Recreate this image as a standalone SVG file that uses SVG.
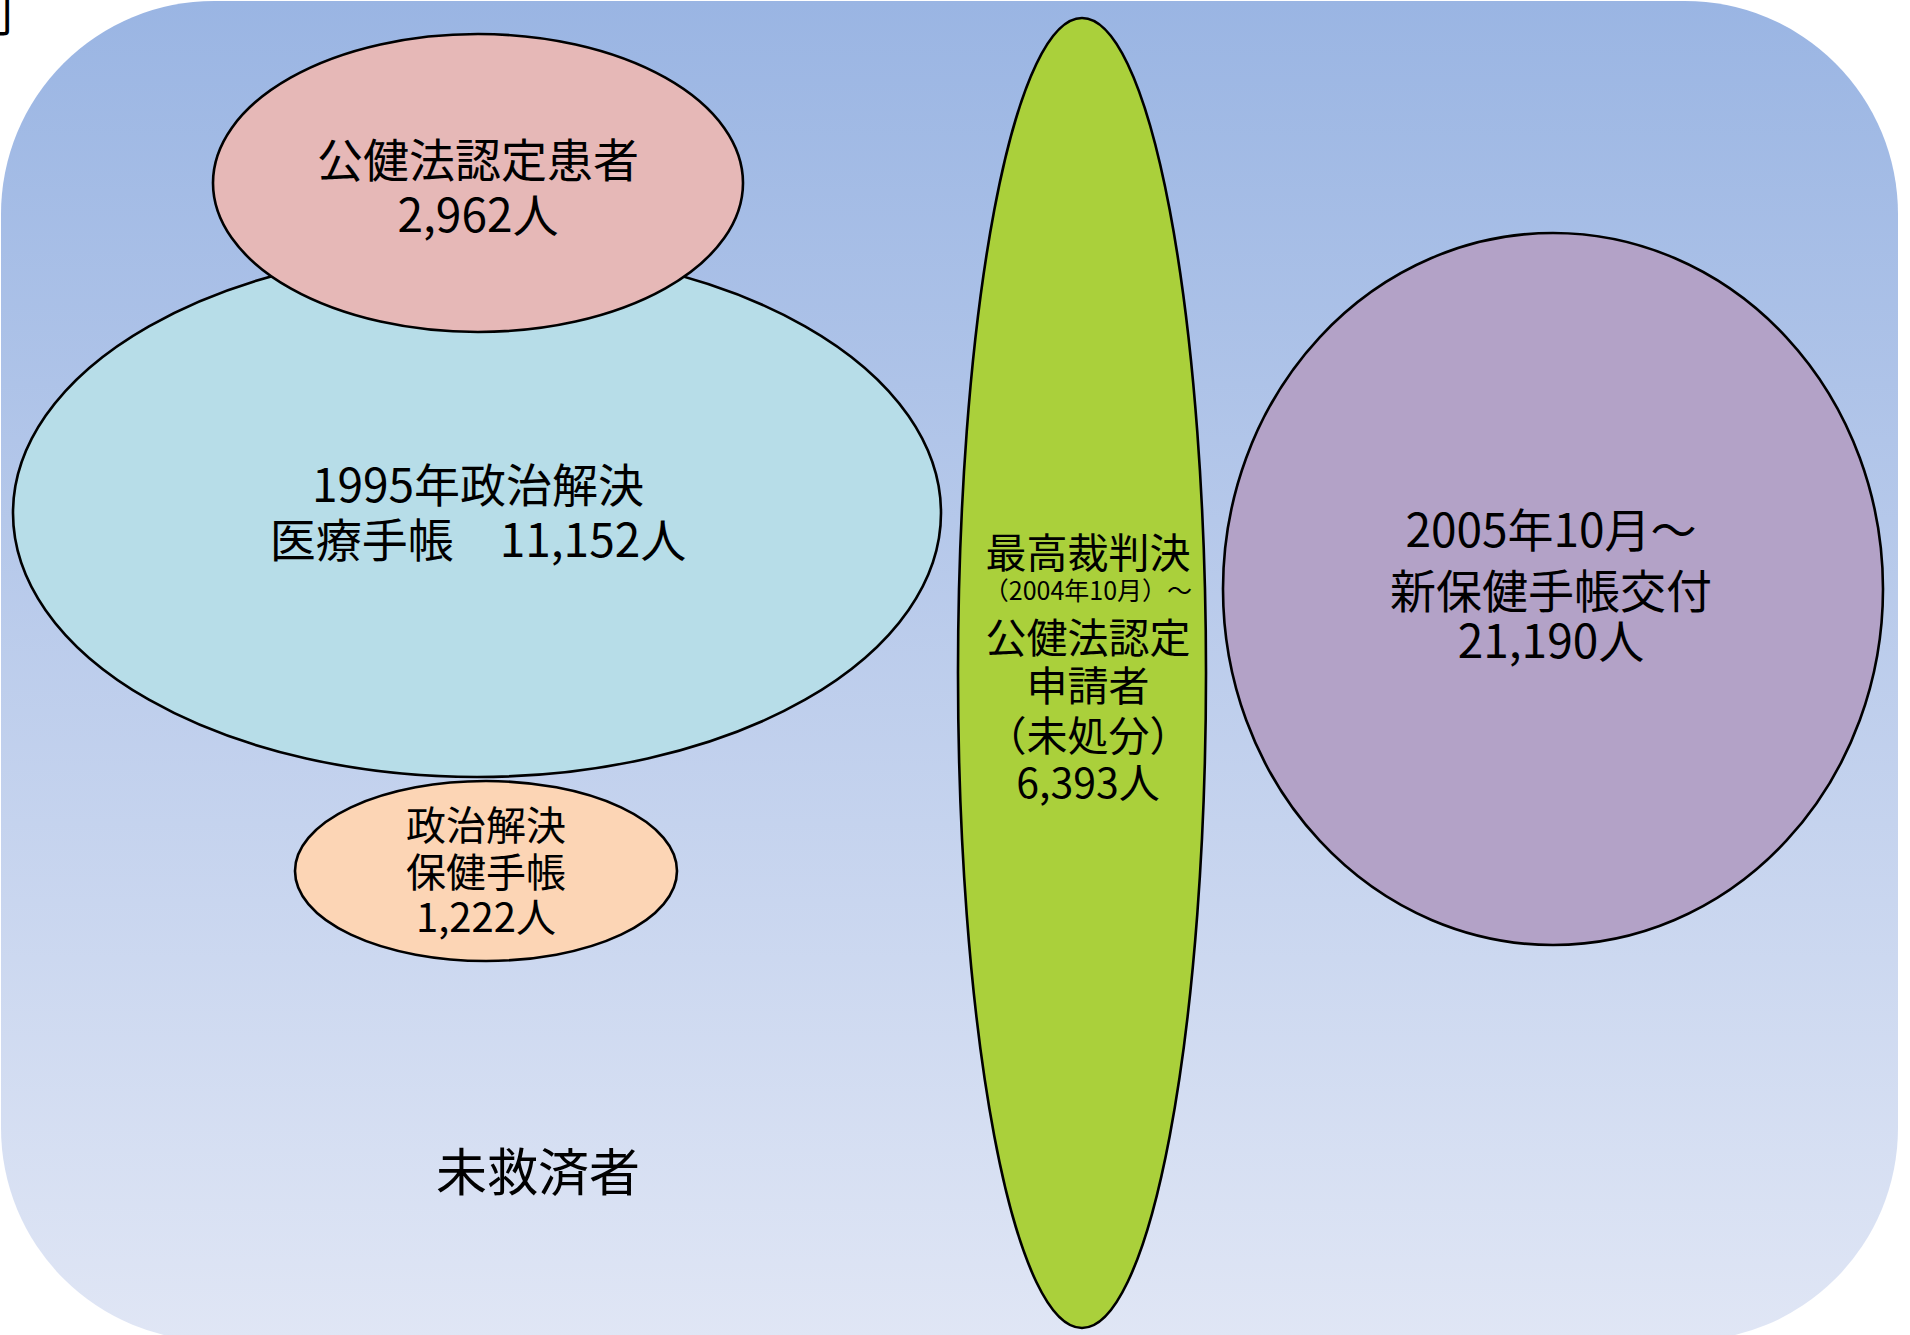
<svg xmlns="http://www.w3.org/2000/svg" width="1910" height="1335" viewBox="0 0 1910 1335">
<defs>
<linearGradient id="bg" x1="0" y1="0" x2="0" y2="1">
<stop offset="0" stop-color="#9AB5E3"/>
<stop offset="1" stop-color="#E0E6F5"/>
</linearGradient>
<style>
.node{stroke:#000;stroke-width:2.6}
.t{font-family:"Noto Sans CJK JP","Noto Sans CJK SC",sans-serif;fill:#000;text-anchor:middle}
</style>
</defs>
<rect x="0" y="0" width="1910" height="1335" fill="#FFFFFF"/>
<text class="t" x="-29" y="31" font-size="46" style="text-anchor:start">可</text>
<rect id="background" x="1" y="1" width="1897" height="1340" rx="213" ry="213" fill="url(#bg)"/>
<g id="connectors"></g>
<g id="node-blue">
<ellipse class="node" cx="477" cy="513" rx="464" ry="264" fill="#B7DDE8"/>
<text class="t" font-size="46" x="478" y="502">1995年政治解決</text>
<text class="t" font-size="46" x="478" y="557">医療手帳　11,152人</text>
</g>
<g id="node-pink">
<ellipse class="node" cx="478" cy="183" rx="265" ry="149" fill="#E6B8B7"/>
<text class="t" font-size="46" x="478" y="177">公健法認定患者</text>
<text class="t" font-size="46" x="478" y="232">2,962人</text>
</g>
<g id="node-orange">
<ellipse class="node" cx="486" cy="871" rx="191" ry="90" fill="#FCD5B5"/>
<text class="t" font-size="40" x="486" y="840">政治解決</text>
<text class="t" font-size="40" x="486" y="887">保健手帳</text>
<text class="t" font-size="40" x="486" y="932">1,222人</text>
</g>
<g id="node-green">
<ellipse class="node" cx="1082" cy="673" rx="124" ry="655" fill="#AAD03B"/>
<text class="t" font-size="41" x="1088" y="568">最高裁判決</text>
<text class="t" font-size="25" x="1088" y="600">（2004年10月）～</text>
<text class="t" font-size="41" x="1088" y="653">公健法認定</text>
<text class="t" font-size="41" x="1088" y="701">申請者</text>
<text class="t" font-size="41" x="1088" y="751">（未処分）</text>
<text class="t" font-size="41" x="1088" y="798">6,393人</text>
</g>
<g id="node-purple">
<ellipse class="node" cx="1553" cy="589" rx="330" ry="356" fill="#B3A2C7"/>
<text class="t" font-size="46" x="1551" y="547">2005年10月～</text>
<text class="t" font-size="46" x="1551" y="608">新保健手帳交付</text>
<text class="t" font-size="46" x="1551" y="658">21,190人</text>
</g>
<g id="label-unrelieved">
<text class="t" font-size="51" x="538" y="1191">未救済者</text>
</g>
</svg>
